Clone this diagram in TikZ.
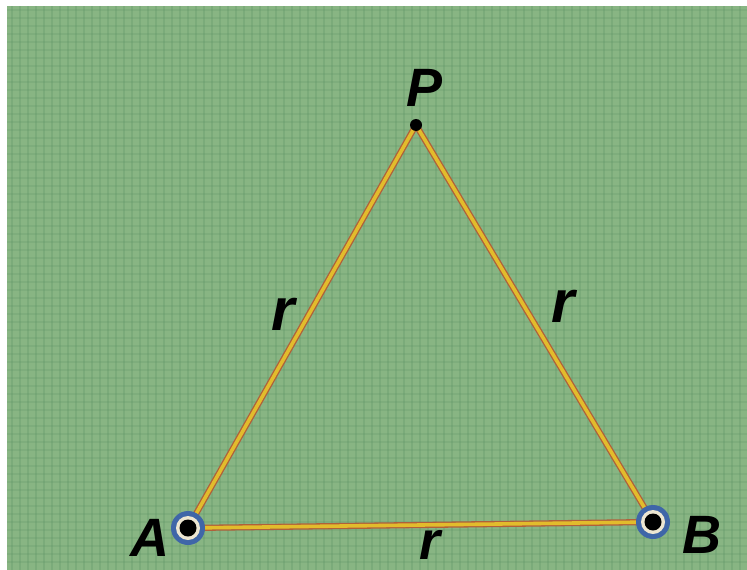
\documentclass[tikz,border=0pt]{standalone}
\usepackage{fontspec}
\setmainfont{Liberation Sans}
\definecolor{bgGreen}{HTML}{88B583}
\definecolor{bgDot}{HTML}{5E9466}
\definecolor{edgeYellow}{HTML}{E2BC2C}
\definecolor{edgeBrown}{HTML}{B0603A}
\definecolor{ringBlue}{HTML}{3F66A8}
\definecolor{ringWhite}{HTML}{EDE6D2}
\tikzset{
  edgeline/.style={edgeYellow,line width=3.6pt,
    preaction={draw,edgeBrown,line width=6.2pt}},
  pointlabel/.style={font=\fontsize{54}{54}\selectfont\bfseries\itshape},
  sidelabel/.style={font=\fontsize{60}{60}\selectfont\bfseries\itshape}
}
\begin{document}
\begin{tikzpicture}[x=1pt,y=-1pt]
  \useasboundingbox (0,0) rectangle (747,570);
  \clip (0,0) rectangle (747,570);
  \fill[white] (0,0) rectangle (747,570);
  \fill[bgGreen] (7,6) rectangle (747,570);
  % cloth texture
  \foreach \x in {12,20,...,744}{\draw[bgDot,line width=2.2pt,opacity=0.3] (\x,6)--(\x,570);}
  \foreach \y in {10,18,...,568}{\draw[bgDot,line width=2.2pt,opacity=0.22] (7,\y)--(747,\y);}
  \coordinate (P) at (416,125);
  \coordinate (A) at (188,528);
  \coordinate (B) at (653,522);
  \draw[edgeline] (A)--(P)--(B);
  \draw[edgeline] (A)--(B);
  \fill[black] (P) circle (6);
  \foreach \pt in {A,B}{
    \fill[ringBlue] (\pt) circle (17);
    \fill[ringWhite] (\pt) circle (12);
    \fill[black] (\pt) circle (8.5);
  }
  \node[pointlabel,anchor=base] (labP) at (425,106) {P};
  \node[pointlabel,anchor=base] (labA) at (150,556) {A};
  \node[pointlabel,anchor=base] (labB) at (702,553) {B};
  \node[sidelabel,anchor=base] (rAP) at (283,330) {r};
  \node[sidelabel,anchor=base] (rPB) at (563,322) {r};
  \node[sidelabel,anchor=base,font=\fontsize{54}{54}\selectfont\bfseries\itshape] (rAB) at (430,559) {r};
\end{tikzpicture}
\end{document}
